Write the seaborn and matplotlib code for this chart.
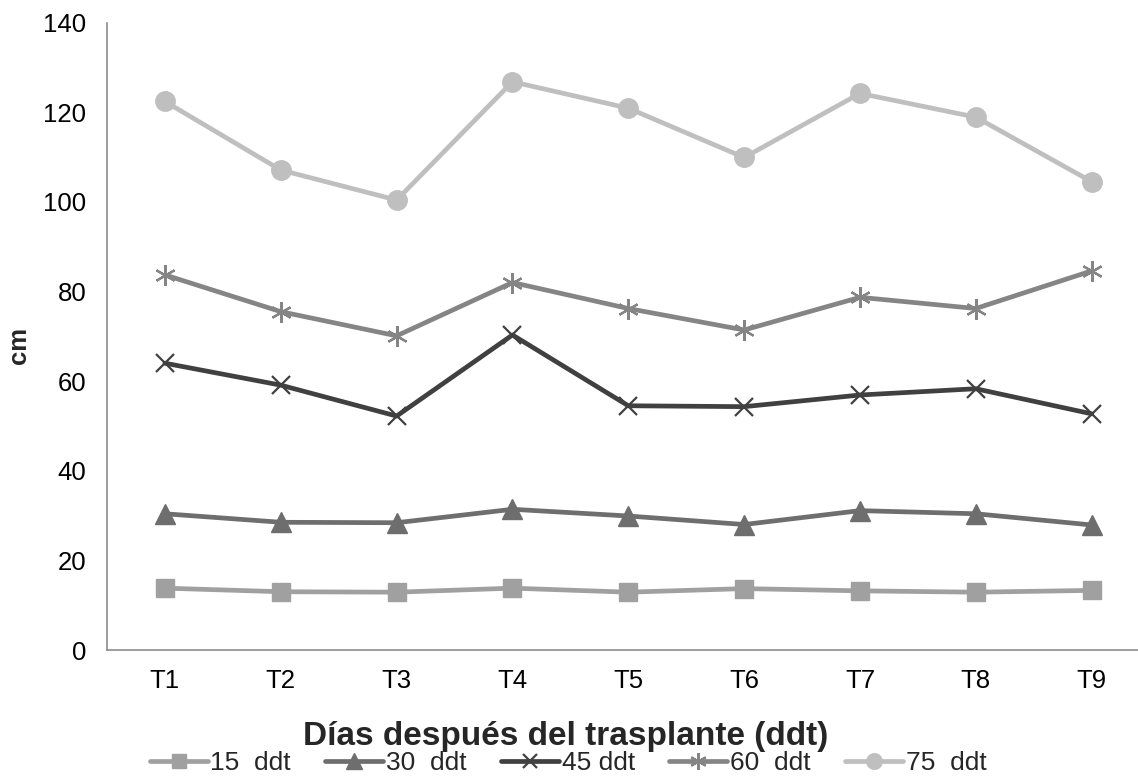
import matplotlib
matplotlib.use("Agg")
import matplotlib.pyplot as plt
import seaborn as sns
import pandas as pd

categories = ["T1", "T2", "T3", "T4", "T5", "T6", "T7", "T8", "T9"]
s15 = [13.8, 13.0, 12.9, 13.8, 12.9, 13.7, 13.2, 12.9, 13.3]
s30 = [30.4, 28.5, 28.4, 31.4, 29.9, 28.0, 31.1, 30.4, 27.9]
s45 = [64.0, 59.1, 52.2, 70.3, 54.5, 54.3, 56.9, 58.3, 52.7]
s60 = [83.7, 75.5, 70.1, 82.0, 76.2, 71.4, 78.7, 76.2, 84.6]
s75 = [122.4, 107.1, 100.4, 126.8, 120.9, 109.9, 124.2, 118.9, 104.5]
labels = ["15  ddt", "30  ddt", "45 ddt", "60  ddt", "75  ddt"]
yticks = [0, 20, 40, 60, 80, 100, 120, 140]

sns.set_theme(style="white")
plt.rcParams['font.family'] = ['Liberation Sans', 'DejaVu Sans']

fig = plt.figure(figsize=(11.38, 7.81), dpi=100)
ax = fig.add_axes([107/1138, 131/781, (1149.6-107)/1138, (650-22.6)/781])

styles = [
    dict(color="#A0A0A0", marker="s", markersize=13, mec="#A0A0A0", mew=1),
    dict(color="#6E6E6E", marker="^", markersize=14, mec="#6E6E6E", mew=1),
    dict(color="#404040", marker="x", markersize=13, mec="#404040", mew=1.6),
    dict(color="#858585", marker=(6, 2, 0), markersize=15, mec="#858585", mew=1.6),
    dict(color="#BFBFBF", marker="o", markersize=14, mec="#BFBFBF", mew=1),
]
series = [s15, s30, s45, s60, s75]
for vals, lab, st in zip(series, labels, styles):
    df = pd.DataFrame({"cat": categories, "val": vals})
    sns.lineplot(data=df, x="cat", y="val", ax=ax, label=lab, linewidth=3.4,
                 sort=False, **st)

ax.set_xlim(-0.5, 8.5)
ax.set_ylim(0, 140)
ax.set_yticks(yticks)
ax.set_yticklabels([str(v) for v in yticks])
ax.set_xlabel("")
ax.set_ylabel("")
for sp in ["top", "right"]:
    ax.spines[sp].set_visible(False)
for sp in ["left", "bottom"]:
    ax.spines[sp].set_color("#8C8C8C")
    ax.spines[sp].set_linewidth(1.2)
ax.tick_params(axis="y", length=0, pad=15, labelsize=18.5, labelcolor="#000000")
ax.tick_params(axis="x", length=0, pad=14, labelsize=18.5, labelcolor="#000000")

fig.text(19/1138, (781-345)/781, "cm", rotation=90, ha="center", va="center",
         fontsize=18.5, fontweight="bold")
fig.text(566/1138, (781-736)/781, "Días después del trasplante (ddt)", ha="center",
         va="center", fontsize=24, fontweight="bold")

handles, labs = ax.get_legend_handles_labels()
ax.get_legend().remove()
fig.legend(handles, labs, loc="center", bbox_to_anchor=(568/1138, (781-763)/781),
           ncol=5, frameon=False, fontsize=19, handlelength=2.2, columnspacing=1.3,
           handletextpad=0.1, borderaxespad=0, markerscale=0.8)

fig.savefig("out.png", dpi=100)
